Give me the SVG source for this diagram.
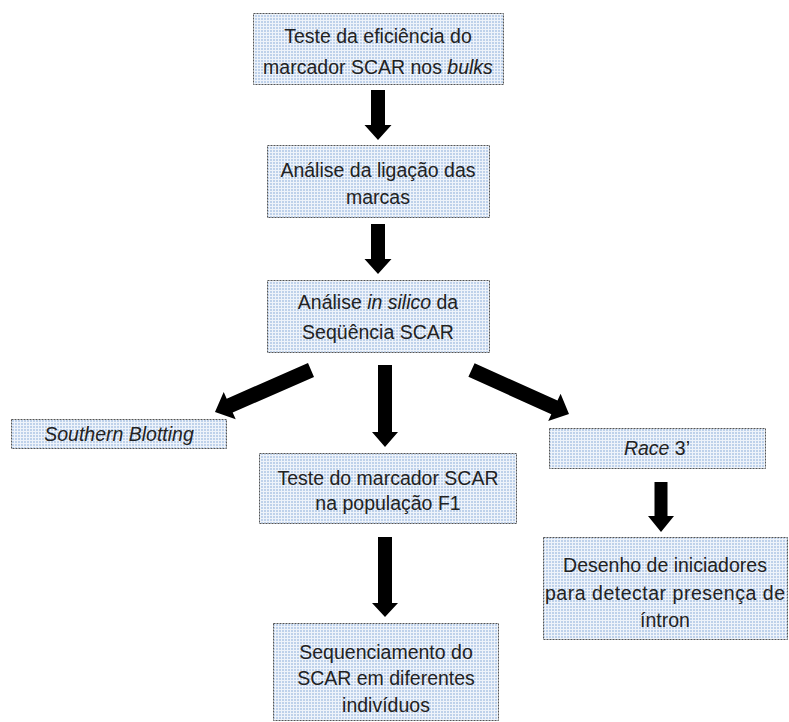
<svg xmlns="http://www.w3.org/2000/svg" width="789" height="722" viewBox="0 0 789 722">
<defs>
<pattern id="grid" width="3" height="3" patternUnits="userSpaceOnUse">
<rect width="3" height="3" fill="#eef3fa"/>
<rect width="2" height="2" fill="#bed1ea"/>
</pattern>
</defs>
<style>
.box{fill:url(#grid);stroke:#555;stroke-width:1;stroke-dasharray:2 1}
.t{font-family:"Liberation Sans",Arial,sans-serif;font-size:19.5px;fill:#222;text-anchor:middle}
.i{font-style:italic}
.arr{fill:#000}
</style>
<rect width="789" height="722" fill="#fff"/>
<g id="connectors">
<polygon class="arr" points="371,90 385,90 385,125 391.5,125 378,140 364.5,125 371,125"/>
<polygon class="arr" points="371,224 385,224 385,259 391.5,259 378,274 364.5,259 371,259"/>
<polygon class="arr" points="378,365 392,365 392,432 398,432 385,447 372,432 378,432"/>
<polygon class="arr" points="378,537 392,537 392,603 398,603 385,617 372,603 378,603"/>
<polygon class="arr" points="654.5,482 667.5,482 667.5,516 674,516 661,532 648,516 654.5,516"/>
<polygon class="arr" points="308,363.1 226.7,398.7 223.7,391.9 215,412 235.7,419.3 232.7,412.5 314,376.9"/>
<polygon class="arr" points="474.6,363.2 557.5,400.6 560.6,393.7 569,414 548.2,421.1 551.3,414.2 468.4,376.8"/>
</g>
<g id="n1">
<rect class="box" x="253.5" y="13.5" width="250" height="71"/>
<text class="t" x="378" y="43">Teste da eficiência do</text>
<text class="t" x="378" y="74">marcador SCAR nos <tspan class="i">bulks</tspan></text>
</g>
<g id="n2">
<rect class="box" x="267.5" y="145.5" width="222" height="72"/>
<text class="t" x="378" y="177">Análise da ligação das</text>
<text class="t" x="378" y="204">marcas</text>
</g>
<g id="n3">
<rect class="box" x="267.5" y="280.5" width="222" height="72"/>
<text class="t" x="378" y="309">Análise <tspan class="i">in silico</tspan> da</text>
<text class="t" x="378" y="339">Seqüência SCAR</text>
</g>
<g id="n4">
<rect class="box" x="11.5" y="419.5" width="215" height="29"/>
<text class="t i" x="119" y="441">Southern Blotting</text>
</g>
<g id="n5">
<rect class="box" x="259.5" y="453.5" width="257" height="70"/>
<text class="t" x="388" y="485">Teste do marcador SCAR</text>
<text class="t" x="388" y="510">na população F1</text>
</g>
<g id="n6">
<rect class="box" x="549.5" y="428.5" width="216" height="40"/>
<text class="t" x="657" y="455"><tspan class="i">Race</tspan> 3’</text>
</g>
<g id="n7">
<rect class="box" x="273.5" y="623.5" width="225" height="97"/>
<text class="t" x="386" y="659">Sequenciamento do</text>
<text class="t" x="386" y="685">SCAR em diferentes</text>
<text class="t" x="386" y="712">indivíduos</text>
</g>
<g id="n8">
<rect class="box" x="543.5" y="537.5" width="244" height="102"/>
<text class="t" x="665" y="572">Desenho de iniciadores</text>
<text class="t" x="665" y="600" textLength="240" lengthAdjust="spacing">para detectar presença de</text>
<text class="t" x="665" y="627">íntron</text>
</g>
</svg>
